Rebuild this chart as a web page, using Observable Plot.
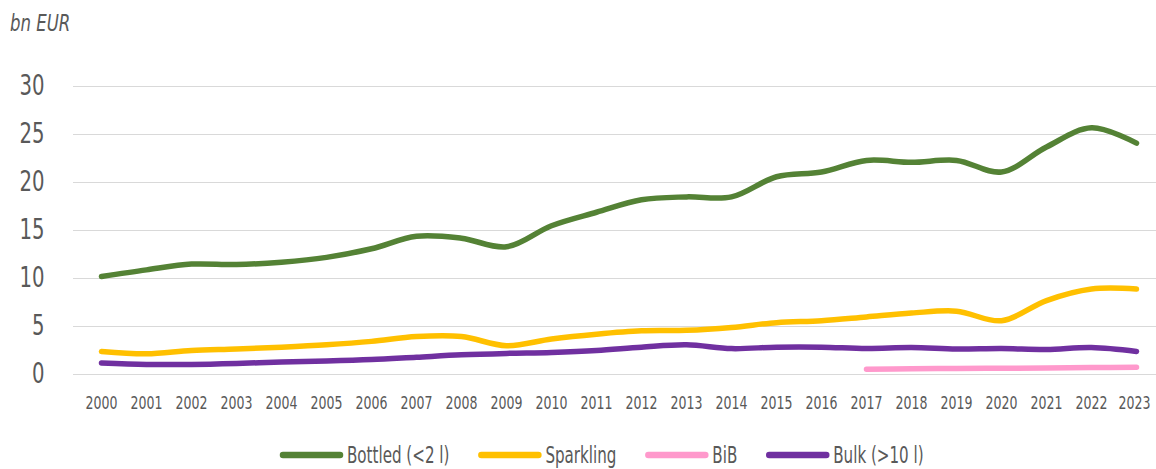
<!DOCTYPE html>
<html><head><meta charset="utf-8">
<script src="https://cdn.jsdelivr.net/npm/d3@7"></script>
<script src="https://cdn.jsdelivr.net/npm/@observablehq/plot@0.6"></script>
<style>
html,body{margin:0;padding:0;background:#fff;overflow:hidden;width:1156px;height:469px}
#wrap{position:relative;width:1156px;height:469px;font-family:"DejaVu Sans Condensed","DejaVu Sans",sans-serif;color:#595959}
#unit{height:40px;box-sizing:border-box;padding-left:10px}
#unit span{display:inline-block;font-style:italic;font-size:23px;line-height:46px;transform:scaleX(0.8);transform-origin:0 50%}
#legend{position:absolute;top:436px;left:0}
</style>
</head><body>
<div id="wrap">
  <div id="unit"><span>bn EUR</span></div>
  <div id="chart"></div>
  <div id="legend"></div>
</div>
<script>
const years = [2000,2001,2002,2003,2004,2005,2006,2007,2008,2009,2010,2011,2012,2013,2014,2015,2016,2017,2018,2019,2020,2021,2022,2023];
const seriesNames = ["Bottled (<2 l)", "Sparkling", "BiB", "Bulk (>10 l)"];
const seriesColors = ["#548235", "#FFC000", "#FF99CC", "#7030A0"];
const bottled   = [10.2,10.9,11.5,11.45,11.7,12.2,13.1,14.4,14.2,13.3,15.5,16.9,18.2,18.5,18.5,20.6,21.1,22.3,22.1,22.3,21.1,23.7,25.7,24.1];
const sparkling = [2.4,2.15,2.5,2.65,2.85,3.1,3.45,3.95,3.95,3.0,3.7,4.2,4.55,4.6,4.9,5.4,5.6,6.0,6.4,6.6,5.6,7.7,8.9,8.9];
const bib       = [null,null,null,null,null,null,null,null,null,null,null,null,null,null,null,null,null,0.55,0.6,0.62,0.65,0.68,0.72,0.75];
const bulk      = [1.2,1.05,1.05,1.15,1.3,1.4,1.55,1.8,2.05,2.2,2.3,2.5,2.85,3.1,2.7,2.85,2.85,2.7,2.8,2.65,2.7,2.6,2.8,2.4];
const yTicks = [0,5,10,15,20,25,30];

const FONT = '"DejaVu Sans Condensed","DejaVu Sans",sans-serif';
const allSeries = [bottled, sparkling, bib, bulk];
const data = [];
allSeries.forEach((vals, i) => vals.forEach((v, j) => {
  if (v != null) data.push({series: seriesNames[i], year: years[j], value: v});
}));

const chart = Plot.plot({
  width: 1156, height: 400,
  marginLeft: 73, marginRight: -8, marginTop: 46, marginBottom: 66,
  style: {fontFamily: FONT, color: "#595959", background: "transparent", overflow: "visible"},
  x: {type: "point", domain: years, padding: 0.5, label: null},
  y: {domain: [0, 30], label: null},
  color: {domain: seriesNames, range: seriesColors},
  marks: [
    Plot.gridY(yTicks, {stroke: "#d9d9d9", strokeOpacity: 1, strokeWidth: 1.2}),
    Plot.axisY(yTicks, {tickSize: 0, tickPadding: 29, fontSize: 28, label: null, fill: "#595959"}),
    Plot.axisX(years, {tickSize: 0, tickPadding: 22, fontSize: 17, label: null, fill: "#595959", tickFormat: d => String(d)}),
    Plot.line(data, {x: "year", y: "value", z: "series", stroke: "series", strokeWidth: 5.5, curve: "catmull-rom", strokeLinecap: "round", strokeLinejoin: "round"})
  ]
});
document.getElementById("chart").appendChild(chart);

function condense(nodes, k) {
  nodes.forEach(t => {
    const w = t.getComputedTextLength();
    t.setAttribute("textLength", w * k);
    t.setAttribute("lengthAdjust", "spacingAndGlyphs");
  });
}
condense(chart.querySelectorAll('[aria-label="y-axis tick label"] text'), 0.78);
const xLabels = chart.querySelectorAll('[aria-label="x-axis tick label"] text');
condense(xLabels, 0.82);
// keep the last label inside the page edge
const lastLabel = xLabels[xLabels.length - 1];
const lw = +lastLabel.getAttribute("textLength");
lastLabel.setAttribute("text-anchor", "end");
lastLabel.setAttribute("dx", (lw / 2 - 2).toFixed(1));

// legend
const lg = d3.select("#legend").append("svg")
  .attr("width", 1156).attr("height", 33)
  .style("font-family", FONT);
const cy = 19;
let lx = 280;
seriesNames.forEach((n, i) => {
  lg.append("line")
    .attr("x1", lx + 3).attr("x2", lx + 60).attr("y1", cy).attr("y2", cy)
    .attr("stroke", seriesColors[i]).attr("stroke-width", 6.5).attr("stroke-linecap", "round");
  lx += 67;
  const t = lg.append("text").attr("x", lx).attr("y", cy).attr("dy", "0.36em")
    .attr("font-size", 23).attr("fill", "#595959").text(n);
  const w = t.node().getComputedTextLength() * 0.73;
  t.attr("textLength", w).attr("lengthAdjust", "spacingAndGlyphs");
  lx += w + 29;
});
</script>
</body></html>
